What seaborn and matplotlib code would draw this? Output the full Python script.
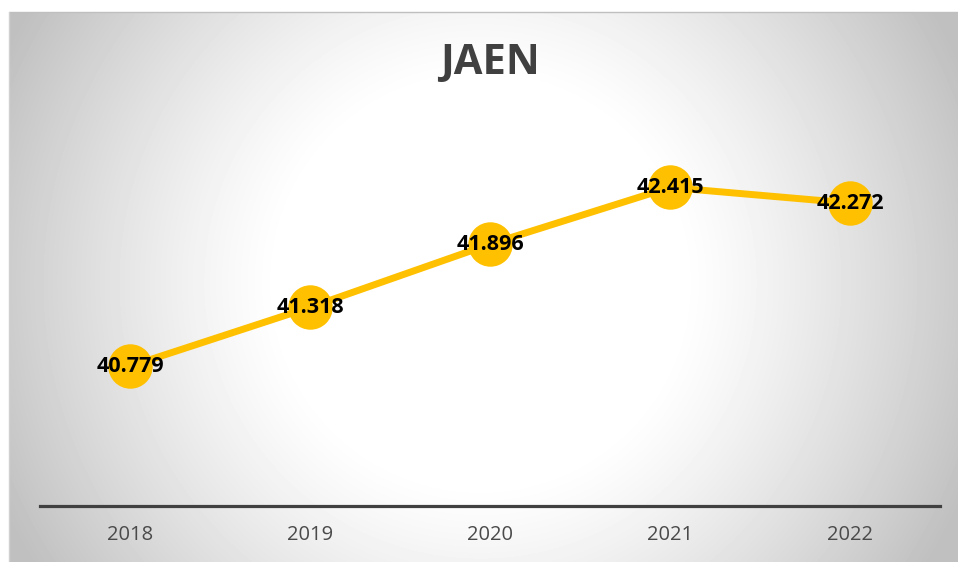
import numpy as np
import matplotlib
matplotlib.use("Agg")
import matplotlib.pyplot as plt
import seaborn as sns
import pandas as pd

sns.set_style("white")
plt.rcParams['font.family'] = ['Open Sans', 'DejaVu Sans']

# data
years = ["2018", "2019", "2020", "2021", "2022"]
values = [40.779, 41.318, 41.896, 42.415, 42.272]
labels = ["40.779", "41.318", "41.896", "42.415", "42.272"]

df = pd.DataFrame({"year": years, "value": values})

W, H = 958, 562
fig = plt.figure(figsize=(W / 100, H / 100), dpi=100)

# radial gradient background panel
bg = fig.add_axes([9 / W, 0, (W - 9) / W, (H - 12) / H])
bw, bh = W - 9, H - 12
yy, xx = np.mgrid[0:bh, 0:bw]
d = np.sqrt((xx - 471.0) ** 2 + (yy - 270.0) ** 2)
shade = 1.0 - 0.25 * np.clip((d - 200) / 330.0, 0, 1) ** 1.2
bg.imshow(shade, cmap="gray", vmin=0, vmax=1, aspect="auto", interpolation="bilinear")
bg.set_axis_off()
fig.add_artist(plt.Line2D([9 / W, 1], [(H - 12) / H, (H - 12) / H],
                          transform=fig.transFigure, color="#bfbfbf", lw=1))
fig.add_artist(plt.Line2D([9 / W, 9 / W], [0, (H - 12) / H],
                          transform=fig.transFigure, color="#d0d0d0", lw=1))

ax = fig.add_axes([40 / W, 56 / H, 900 / W, (506 - 123.5) / H])
ax.patch.set_alpha(0)

sns.lineplot(data=df, x="year", y="value", ax=ax, color="#FFC000", linewidth=5,
             marker="o", markersize=32, markeredgewidth=0, sort=False)

for i, (v, t) in enumerate(zip(values, labels)):
    ax.text(i, v, t, ha="center", va="center", fontsize=15.5, fontweight="bold",
            color="black", zorder=5)

ax.set_xlim(-0.5, 4.5)
ax.set_ylim(39.5, 43.0)
ax.set_yticks([])
ax.set_xlabel("")
ax.set_ylabel("")
for s in ["top", "right", "left"]:
    ax.spines[s].set_visible(False)
ax.spines["bottom"].set_color("#404040")
ax.spines["bottom"].set_linewidth(2.3)
ax.tick_params(axis="x", length=0, pad=14, labelsize=14.5, labelcolor="#4a4a4a")

fig.text(490 / W, 1 - 63 / H, "JAEN", ha="center", va="center", fontsize=30,
         fontweight="bold", color="#404040")

fig.savefig("out.png", dpi=100)
